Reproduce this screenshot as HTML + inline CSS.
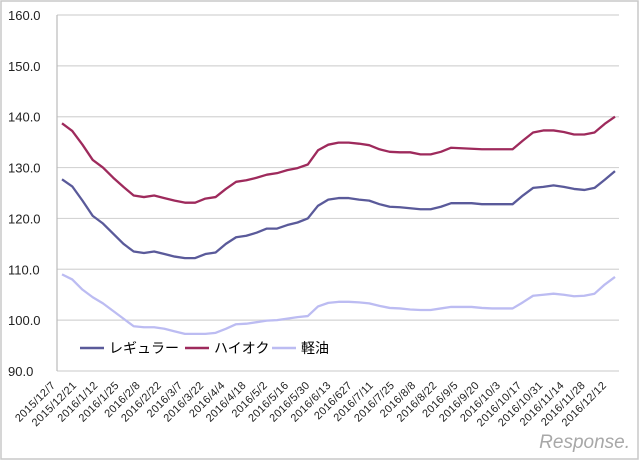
<!DOCTYPE html>
<html><head><meta charset="utf-8"><style>
body{margin:0;background:#fff}
svg{display:block;font-family:"Liberation Sans","Noto Sans CJK JP",sans-serif}
</style></head><body>
<svg id="c" width="640" height="461">
<rect x="1" y="1" width="637" height="458" fill="#fff" stroke="#c8c8c8" stroke-width="1.5"/>
<g id="grid"></g><g id="ylab"></g><g id="xlab"></g><g id="series"></g>
<g>
<line x1="80" y1="348" x2="104" y2="348" stroke="#5a5a9a" stroke-width="2.5"/>
<text x="109" y="353" font-size="14">レギュラー</text>
<line x1="185" y1="348" x2="209" y2="348" stroke="#9e2a5c" stroke-width="2.5"/>
<text x="214" y="353" font-size="14">ハイオク</text>
<line x1="272" y1="348" x2="296" y2="348" stroke="#bcbcf2" stroke-width="2.5"/>
<text x="301" y="353" font-size="14">軽油</text>
</g>
<text x="630" y="448" font-size="19" fill="#a8a8a8" text-anchor="end" font-style="italic">Response.</text>
</svg>
<script>
const regular=[127.7,126.3,123.5,120.5,119,117,115,113.5,113.2,113.5,113,112.5,112.2,112.2,113,113.3,115,116.3,116.6,117.2,118,118,118.7,119.2,120,122.5,123.7,124,124,123.7,123.5,122.8,122.3,122.2,122,121.8,121.8,122.3,123,123,123,122.8,122.8,122.8,122.8,124.5,126,126.2,126.5,126.2,125.8,125.6,126,127.6,129.3];
const highOctane=[138.7,137.2,134.5,131.5,130,128,126.2,124.5,124.2,124.5,124,123.5,123.1,123.1,123.9,124.2,125.8,127.2,127.5,128,128.6,128.9,129.5,129.9,130.6,133.4,134.5,134.9,134.9,134.7,134.4,133.6,133.1,133,133,132.6,132.6,133.1,133.9,133.8,133.7,133.6,133.6,133.6,133.6,135.3,136.9,137.3,137.3,137,136.5,136.5,136.9,138.6,140];
const diesel=[109,108,106,104.5,103.3,101.8,100.3,98.8,98.6,98.6,98.3,97.8,97.3,97.3,97.3,97.5,98.3,99.2,99.3,99.6,99.9,100,100.3,100.6,100.8,102.7,103.4,103.6,103.6,103.5,103.3,102.8,102.4,102.3,102.1,102,102,102.3,102.6,102.6,102.6,102.4,102.3,102.3,102.3,103.5,104.8,105,105.2,105,104.7,104.8,105.2,107,108.5];
const yTicks=[90,100,110,120,130,140,150,160];
const xLabels=["2015/12/7","2015/12/21","2016/1/12","2016/1/25","2016/2/8","2016/2/22","2016/3/7","2016/3/22","2016/4/4","2016/4/18","2016/5/2","2016/5/16","2016/5/30","2016/6/13","2016/627","2016/7/11","2016/7/25","2016/8/8","2016/8/22","2016/9/5","2016/9/20","2016/10/3","2016/10/17","2016/10/31","2016/11/14","2016/11/28","2016/12/12"];
const NS="http://www.w3.org/2000/svg";
const X0=62,X1=615,Y0=371,Y1=15;
const xs=i=>X0+(X1-X0)*i/(regular.length-1);
const ys=v=>Y0-(v-90)/70*(Y0-Y1);
const lx=k=>56+(607-56)*k/(xLabels.length-1);
function mk(t,a,p){const e=document.createElementNS(NS,t);for(const k in a)e.setAttribute(k,a[k]);p.appendChild(e);return e;}
const g=document.getElementById('grid'),yl=document.getElementById('ylab'),xl=document.getElementById('xlab'),sg=document.getElementById('series');
yTicks.forEach(v=>{
 const l=mk('line',{x1:57,x2:619,y1:ys(v),y2:ys(v),stroke:'#d4d4d4','stroke-width':1.2},g);
 
 
 const t=mk('text',{x:8,y:ys(v)+5,'font-size':13,fill:'#222'},yl);t.textContent=v.toFixed(1);
 
 
});
const ax=mk('line',{x1:57,x2:57,y1:15,y2:371,stroke:'#bbb','stroke-width':1.2},g);


xLabels.forEach((s,k)=>{
 const x=lx(k),y=386;
 const t=mk('text',{x:x,y:y,'font-size':11,'letter-spacing':0.3,fill:'#222','text-anchor':'end',transform:`rotate(-45 ${x} ${y})`},xl);t.textContent=s;
 
 
});
[[regular,'#5a5a9a','regular-line'],[highOctane,'#9e2a5c','high-octane-line'],[diesel,'#bcbcf2','diesel-line']].forEach(([d,c,n])=>{
 const p=mk('polyline',{points:d.map((v,i)=>xs(i)+','+ys(v)).join(' '),fill:'none',stroke:c,'stroke-width':2.3,'stroke-linejoin':'round'},sg);
 
 
});
</script>
</body></html>
